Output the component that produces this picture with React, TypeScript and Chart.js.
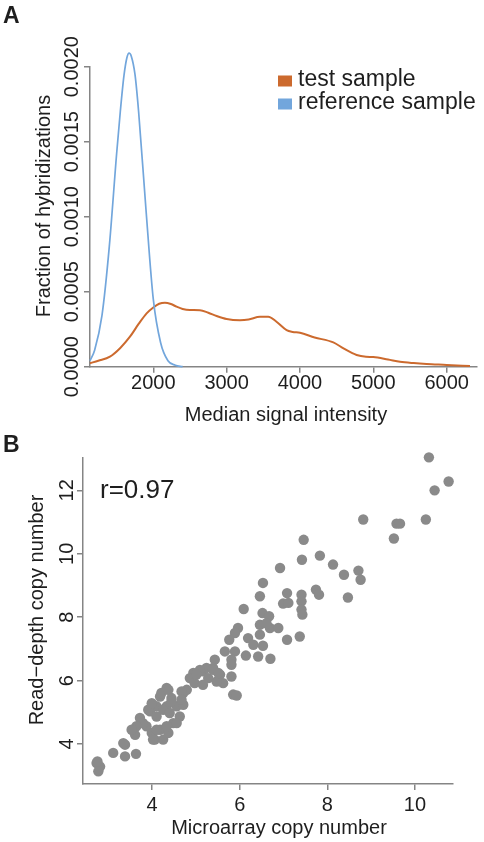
import React, { useEffect, useRef } from "react";
import { Chart, registerables } from "chart.js";

Chart.register(...registerables);

// ---------- Panel A data (density curves) ----------
const testX = [1137, 1250, 1409, 1550, 1682, 1800, 1909, 2000, 2080, 2159, 2240, 2318, 2400, 2500, 2636, 2750, 2864, 3000, 3182, 3300, 3455, 3568, 3680, 3818, 3900, 4000, 4200, 4455, 4600, 4773, 4900, 5000, 5200, 5364, 5550, 5727, 6000, 6318];
const testY = [0.000023, 0.00004, 0.000067, 0.000125, 0.0002, 0.000285, 0.000356, 0.000395, 0.00042, 0.000427, 0.000418, 0.0004, 0.000385, 0.000378, 0.000377, 0.00036, 0.000338, 0.000318, 0.00031, 0.000315, 0.000333, 0.000333, 0.0003, 0.000244, 0.000232, 0.000226, 0.000195, 0.000162, 0.00012, 0.000078, 0.000066, 0.000064, 0.000048, 0.000033, 0.000024, 0.000018, 0.000012, 0.000004];
const refX = [1137, 1200, 1300, 1400, 1500, 1550, 1600, 1640, 1670, 1700, 1750, 1800, 1900, 2000, 2100, 2200, 2300, 2400];
const refY = [0.00004, 0.00011, 0.00034, 0.0008, 0.00142, 0.0017, 0.00194, 0.00206, 0.00209, 0.00207, 0.00195, 0.0017, 0.00105, 0.00045, 0.00016, 0.00004, 0.00001, 0.0];
const densityXTicks = [2000, 3000, 4000, 5000, 6000];
const densityYTicks = [0, 0.0005, 0.001, 0.0015, 0.002];
const seriesNames = ["test sample", "reference sample"];

// ---------- Panel B data (scatter) ----------
const microarrayCN = [
  10.32, 10.77, 10.45, 8.82, 9.58, 9.66, 10.25, 9.52, 7.46, 7.42, 7.83, 6.92, 8.13, 8.38, 8.71, 8.76, 6.53, 6.46, 7.08, 7.41, 7.74, 7.81, 8.47, 6.09, 6.99, 7.11, 7.41, 7.41, 7.43, 6.52, 6.67,
  6.69, 6.88, 6.46, 5.96, 5.89, 5.76, 6.19, 6.46, 6.31, 6.53, 7.08, 7.37, 5.66, 5.89, 5.81, 6.14, 6.42, 6.7, 5.43, 5.39, 5.81, 5.81, 5.16, 4.94, 4.86, 4.97, 5.28, 5.55, 5.62, 5.47, 5.16, 6.61, 5.85, 5.93, 5.24, 5.09, 5.01, 5.39, 5.51,
  4.33, 4.18, 4.21, 4.37, 4.44, 4.33, 4.56, 4.63, 4.71, 4.48, 4.18, 4.06, 3.99, 3.87, 3.79, 3.72, 4.25, 4.37, 4.71, 4.79, 4.67, 4.1, 3.95, 4.44, 4.25, 4.4, 4.1, 4.33, 4.1, 4.02, 3.91, 3.99, 3.64, 3.61, 3.53, 3.38, 3.34, 3.11, 3.38, 3.63, 2.73, 2.81, 2.77, 2.75, 4.56, 4.67
];
const readDepthCN = [
  13.04, 12.28, 12.0, 11.08, 10.95, 10.95, 11.08, 10.48, 10.44, 9.81, 9.94, 9.55, 9.66, 9.34, 9.47, 9.18, 9.08, 8.66, 8.76, 8.71, 8.87, 8.71, 8.62, 8.26, 8.43, 8.45, 8.5, 8.24, 8.08, 8.13, 8.03,
  7.66, 7.66, 7.76, 7.66, 7.5, 7.29, 7.34, 7.45, 7.13, 7.1, 7.29, 7.39, 6.92, 6.92, 6.66, 6.79, 6.76, 6.69, 6.66, 6.4, 6.5, 6.13, 6.29, 6.24, 6.08, 5.92, 6.08, 6.19, 5.92, 5.97, 5.87, 7.81, 5.56, 5.53, 6.4, 6.34, 6.19, 6.34, 6.24,
  5.77, 5.5, 5.61, 5.71, 5.45, 5.19, 5.19, 4.87, 5.24, 4.66, 4.45, 4.14, 4.35, 4.56, 4.66, 4.82, 4.14, 4.35, 5.61, 5.71, 5.66, 5.19, 5.03, 5.34, 5.08, 4.98, 4.87, 4.56, 4.45, 4.14, 5.08, 5.29, 4.56, 4.29, 4.45, 3.98, 4.03, 3.72, 3.61, 3.69, 3.4, 3.29, 3.14, 3.45, 4.66, 5.4
];
const scatterXTicks = [4, 6, 8, 10];
const scatterYTicks = [4, 6, 8, 10, 12];
const correlationLabel = "r=0.97";

// ---------- styles ----------
const FONT = '"Liberation Sans", Arial, Helvetica, sans-serif';
const ORANGE = "#cc6a2e";
const BLUE = "#72a6dc";
const AXIS = "#858585";
const TEXT = "#1e1e1e";
const DOT = "#8a8a8a";
const A_H = 430;
const B_TOP = 430;
const B_H = 842 - B_TOP;

function rotText(ctx: CanvasRenderingContext2D, text: string, x: number, y: number) {
  ctx.save();
  ctx.translate(x, y);
  ctx.rotate(-Math.PI / 2);
  ctx.textAlign = "center";
  ctx.textBaseline = "middle";
  ctx.fillText(text, 0, 0);
  ctx.restore();
}

const panelAText = {
  id: "panelAText",
  afterDraw(chart: any) {
    const ctx: CanvasRenderingContext2D = chart.ctx;
    const xs = chart.scales.x;
    const ys = chart.scales.y;
    ctx.save();
    ctx.fillStyle = TEXT;
    ctx.font = `bold 23px ${FONT}`;
    ctx.textAlign = "left";
    ctx.textBaseline = "alphabetic";
    ctx.fillText("A", 3, 23);

    ctx.font = `20px ${FONT}`;
    densityYTicks.forEach((v) => rotText(ctx, v.toFixed(4), 72, ys.getPixelForValue(v)));
    ctx.textAlign = "center";
    ctx.textBaseline = "middle";
    densityXTicks.forEach((v) => ctx.fillText(String(v), xs.getPixelForValue(v), 383));
    ctx.textBaseline = "alphabetic";
    ctx.fillText("Median signal intensity", 286, 421);
    rotText(ctx, "Fraction of hybridizations", 44, 206);

    // legend
    const colors = [ORANGE, BLUE];
    const baselines = [86, 109];
    ctx.font = `23px ${FONT}`;
    ctx.textAlign = "left";
    seriesNames.forEach((name, i) => {
      ctx.fillStyle = colors[i];
      ctx.fillRect(278, baselines[i] - 10.5, 14, 11);
      ctx.fillStyle = TEXT;
      ctx.fillText(name, 298, baselines[i]);
    });
    ctx.restore();
  },
};

const panelBText = {
  id: "panelBText",
  afterDraw(chart: any) {
    const ctx: CanvasRenderingContext2D = chart.ctx;
    const xs = chart.scales.x;
    const ys = chart.scales.y;
    ctx.save();
    ctx.fillStyle = TEXT;
    ctx.font = `bold 23px ${FONT}`;
    ctx.textAlign = "left";
    ctx.textBaseline = "alphabetic";
    ctx.fillText("B", 3, 452 - B_TOP);

    ctx.font = `20px ${FONT}`;
    scatterYTicks.forEach((v) => rotText(ctx, String(v), 67, ys.getPixelForValue(v)));
    ctx.textAlign = "center";
    ctx.textBaseline = "middle";
    scatterXTicks.forEach((v) => ctx.fillText(String(v), xs.getPixelForValue(v), 805 - B_TOP));
    ctx.textBaseline = "alphabetic";
    ctx.fillText("Microarray copy number", 279, 834 - B_TOP);
    rotText(ctx, "Read\u2212depth copy number", 37, 610 - B_TOP);

    ctx.font = `26px ${FONT}`;
    ctx.textAlign = "left";
    ctx.fillText(correlationLabel, 100, 498 - B_TOP);
    ctx.restore();
  },
};

function axisOpts(extra: any) {
  return {
    type: "linear",
    ticks: { display: false },
    grid: { drawOnChartArea: false, drawTicks: true, tickLength: 6, color: AXIS, lineWidth: 1.5 },
    border: { display: true, color: AXIS, width: 1.5 },
    ...extra,
  };
}

export default function App() {
  const refA = useRef<HTMLCanvasElement | null>(null);
  const refB = useRef<HTMLCanvasElement | null>(null);

  useEffect(() => {
    const chartA = new Chart(refA.current as HTMLCanvasElement, {
      type: "line",
      data: {
        datasets: [
          {
            label: seriesNames[1],
            data: refX.map((x, i) => ({ x, y: refY[i] })),
            borderColor: BLUE,
            borderWidth: 1.7,
            pointRadius: 0,
            cubicInterpolationMode: "monotone",
            clip: false,
            order: 0,
          },
          {
            label: seriesNames[0],
            data: testX.map((x, i) => ({ x, y: testY[i] })),
            borderColor: ORANGE,
            borderWidth: 2,
            pointRadius: 0,
            cubicInterpolationMode: "monotone",
            clip: false,
            order: 1,
          },
        ],
      } as any,
      options: {
        responsive: false,
        animation: false,
        devicePixelRatio: 1,
        layout: { padding: { top: 66.7, right: 7.3, left: 0, bottom: 0 } },
        plugins: { legend: { display: false }, tooltip: { enabled: false } },
        scales: {
          x: axisOpts({
            min: 1137,
            max: 6410,
            afterFit: (s: any) => { s.height = A_H - 366.7; },
            afterBuildTicks: (s: any) => { s.ticks = densityXTicks.map((v) => ({ value: v })); },
          }),
          y: axisOpts({
            min: 0,
            max: 0.002,
            afterFit: (s: any) => { s.width = 90; },
            afterBuildTicks: (s: any) => { s.ticks = densityYTicks.map((v) => ({ value: v })); },
          }),
        },
      } as any,
      plugins: [panelAText],
    });

    const chartB = new Chart(refB.current as HTMLCanvasElement, {
      type: "scatter",
      data: {
        datasets: [
          {
            data: microarrayCN.map((x, i) => ({ x, y: readDepthCN[i] })),
            pointRadius: 5.2,
            pointBackgroundColor: DOT,
            pointBorderWidth: 0,
            clip: false,
          },
        ],
      } as any,
      options: {
        responsive: false,
        animation: false,
        devicePixelRatio: 1,
        layout: { padding: { top: 458 - B_TOP, right: 484 - 453, left: 0, bottom: 0 } },
        plugins: { legend: { display: false }, tooltip: { enabled: false } },
        scales: {
          x: axisOpts({
            min: 2.42,
            max: 10.87,
            afterFit: (s: any) => { s.height = B_H - (784 - B_TOP); },
            afterBuildTicks: (s: any) => { s.ticks = scatterXTicks.map((v) => ({ value: v })); },
          }),
          y: axisOpts({
            min: 2.74,
            max: 13.02,
            afterFit: (s: any) => { s.width = 83; },
            afterBuildTicks: (s: any) => { s.ticks = scatterYTicks.map((v) => ({ value: v })); },
          }),
        },
      } as any,
      plugins: [panelBText],
    });

    return () => {
      chartA.destroy();
      chartB.destroy();
    };
  }, []);

  return (
    <div style={{ position: "absolute", left: 0, top: 0, width: 484, height: 842, background: "#fff" }}>
      <canvas ref={refA} width={484} height={A_H} style={{ position: "absolute", left: 0, top: 0 }} />
      <canvas ref={refB} width={484} height={B_H} style={{ position: "absolute", left: 0, top: B_TOP }} />
    </div>
  );
}
